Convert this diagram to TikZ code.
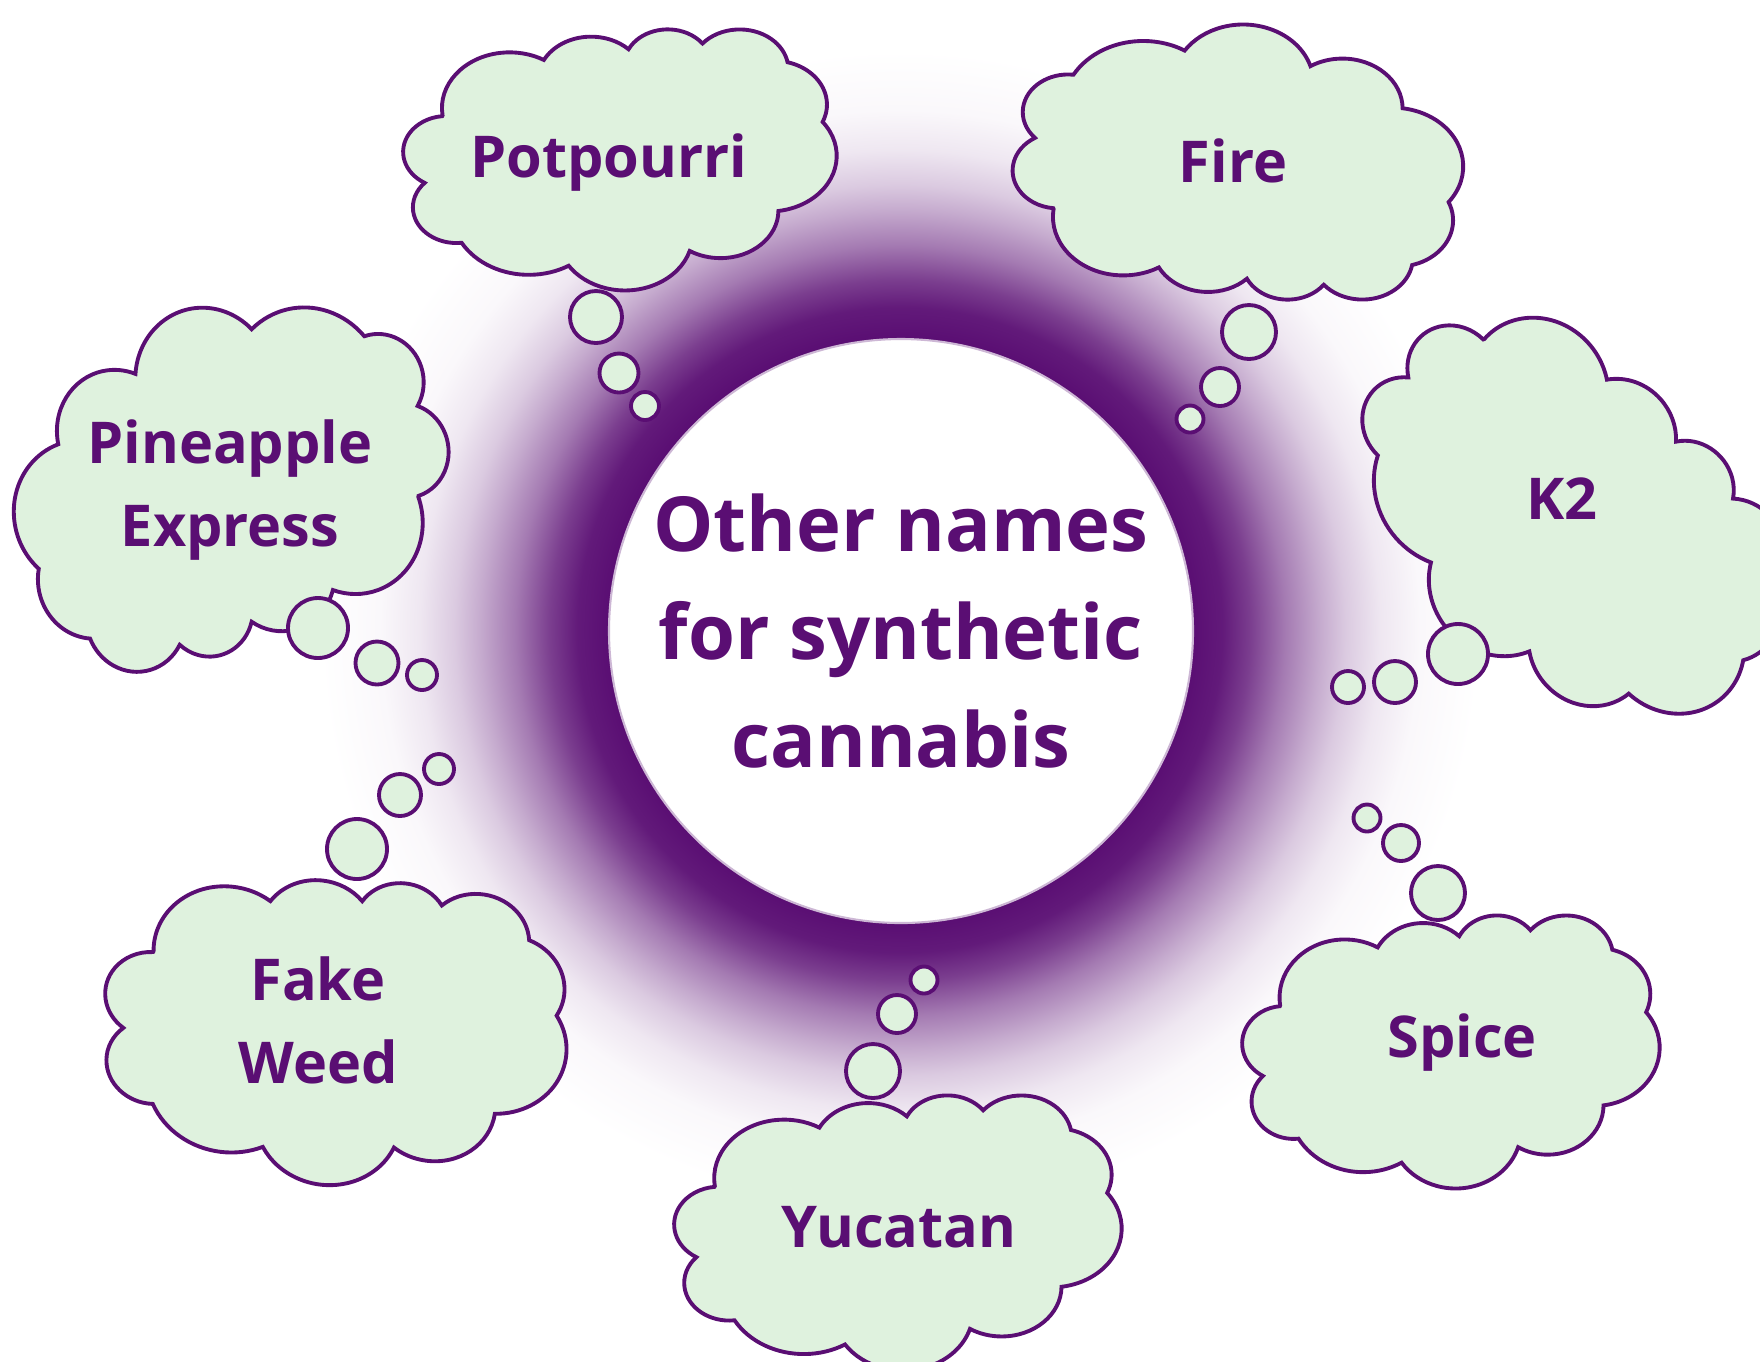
\documentclass[tikz,border=0pt]{standalone}
\usepackage{fontspec}
\setmainfont{Open Sans}
\usetikzlibrary{positioning}
\definecolor{plum}{HTML}{5A0E73}
\definecolor{leaf}{HTML}{DFF2DE}
\pgfdeclareradialshading{halo}{\pgfpoint{0bp}{0bp}}{color(0bp)=(plum); color(12.6bp)=(plum); color(13.9bp)=(plum!95!white); color(15.1bp)=(plum!80!white); color(16.6bp)=(plum!55!white); color(18.1bp)=(plum!35!white); color(19.2bp)=(plum!22!white); color(20.7bp)=(plum!10!white); color(22.4bp)=(plum!3!white); color(25bp)=(white); color(50bp)=(white)}
\tikzset{puff/.style={fill=leaf,draw=plum,line width=1.1pt},
bub/.style={circle,fill=leaf,draw=plum,line width=1.1pt,inner sep=0pt},
word/.style={text=plum,font=\fontsize{16.4}{23.6}\selectfont\bfseries,align=center},
hub/.style={circle,fill=white,draw=plum!30,line width=0.6pt,minimum size=5.84cm,inner sep=0pt,text=plum,font=\fontsize{21.6}{30.7}\selectfont\bfseries,align=center}}
% cloud outline in a 43.2 x 43.2 box, put at (#1,#2), size #3 x #4 (minus = mirrored), turned by #5
\newcommand\cloudat[5]{%
\begin{scope}[shift={(#1,#2)},rotate=#5,xscale={(#3)/43.2},yscale={-(#4)/43.2},shift={(-21.6,-21.6)}]
\filldraw[puff] (3.9,14.37) \foreach \rx/\ry/\sa/\da in {6.753/9.19/-190.4875/123.7805,
5.333/7.267/-144.1024/89.9452, 4.365/5.945/-145.8079/99.7230, 4.857/6.595/-130.9861/117.2417,
5.333/7.273/-78.7089/109.0269, 6.775/9.22/-46.2673/130.2690, 5.785/7.867/0.6250/114.0333,
6.752/9.215/22.4516/115.1726, 7.72/10.543/66.2426/75.7110, 4.36/5.918/-274.9421/146.7356,
4.345/5.945/-246.8285/152.5189}
{arc[x radius=\rx,y radius=\ry,start angle={atan2(\rx*sin(\sa),\ry*cos(\sa))},
delta angle={mod(atan2(\rx*sin(\sa+\da),\ry*cos(\sa+\da))-atan2(\rx*sin(\sa),\ry*cos(\sa))+720,360)}]} -- cycle;
\end{scope}}

\begin{document}
\begin{tikzpicture}
\useasboundingbox (0,0) rectangle (17.6,-13.61);

% glow ring
\shade[shading=halo] (9.0,-6.3) circle (5.8);
\node[hub] (hub) at (9.01,-6.31) {Other names\\for synthetic\\cannabis};

% clouds
\cloudat{6.20}{-1.59}{4.33}{2.61}{0}
\cloudat{12.38}{-1.63}{4.50}{-2.75}{0}
\cloudat{2.30}{-4.78}{4.40}{3.45}{192}
\cloudat{15.67}{-5.21}{4.70}{3.20}{-50}
\cloudat{3.35}{-10.29}{4.65}{3.10}{-8}
\cloudat{8.98}{-12.32}{4.47}{2.75}{0}
\cloudat{14.51}{-10.51}{4.17}{2.73}{0}

% bubbles
\node[bub,minimum size=.52cm] (p1) at (5.96,-3.17) {};
\node[bub,minimum size=.39cm] (p2) at (6.19,-3.73) {};
\node[bub,minimum size=.28cm] (p3) at (6.45,-4.06) {};
\node[bub,minimum size=.54cm] (f1) at (12.49,-3.32) {};
\node[bub,minimum size=.38cm] (f2) at (12.20,-3.87) {};
\node[bub,minimum size=.27cm] (f3) at (11.90,-4.19) {};
\node[bub,minimum size=.60cm] (x1) at (3.18,-6.28) {};
\node[bub,minimum size=.43cm] (x2) at (3.77,-6.63) {};
\node[bub,minimum size=.30cm] (x3) at (4.22,-6.75) {};
\node[bub,minimum size=.60cm] (k1) at (14.58,-6.54) {};
\node[bub,minimum size=.42cm] (k2) at (13.95,-6.82) {};
\node[bub,minimum size=.32cm] (k3) at (13.48,-6.87) {};
\node[bub,minimum size=.60cm] (w1) at (3.57,-8.49) {};
\node[bub,minimum size=.42cm] (w2) at (4.00,-7.95) {};
\node[bub,minimum size=.30cm] (w3) at (4.39,-7.69) {};
\node[bub,minimum size=.54cm] (y1) at (8.73,-10.71) {};
\node[bub,minimum size=.38cm] (y2) at (8.97,-10.14) {};
\node[bub,minimum size=.27cm] (y3) at (9.24,-9.80) {};
\node[bub,minimum size=.54cm] (s1) at (14.38,-8.93) {};
\node[bub,minimum size=.36cm] (s2) at (14.01,-8.43) {};
\node[bub,minimum size=.27cm] (s3) at (13.67,-8.18) {};

% names
\node[word,anchor=base] (potpourri) at (6.09,-1.77) {Potpourri};
\node[word,anchor=base] (fire) at (12.33,-1.82) {Fire};
\node[word] (pineapple) at (2.30,-4.90) {Pineapple\\Express};
\node[word,anchor=base] (ktwo) at (15.62,-5.19) {K2};
\node[word] (fakeweed) at (3.18,-10.20) {Fake\\Weed};
\node[word,anchor=base] (yucatan) at (8.99,-12.47) {Yucatan};
\node[word,anchor=base] (spice) at (14.62,-10.57) {Spice};
\end{tikzpicture}
\end{document}
